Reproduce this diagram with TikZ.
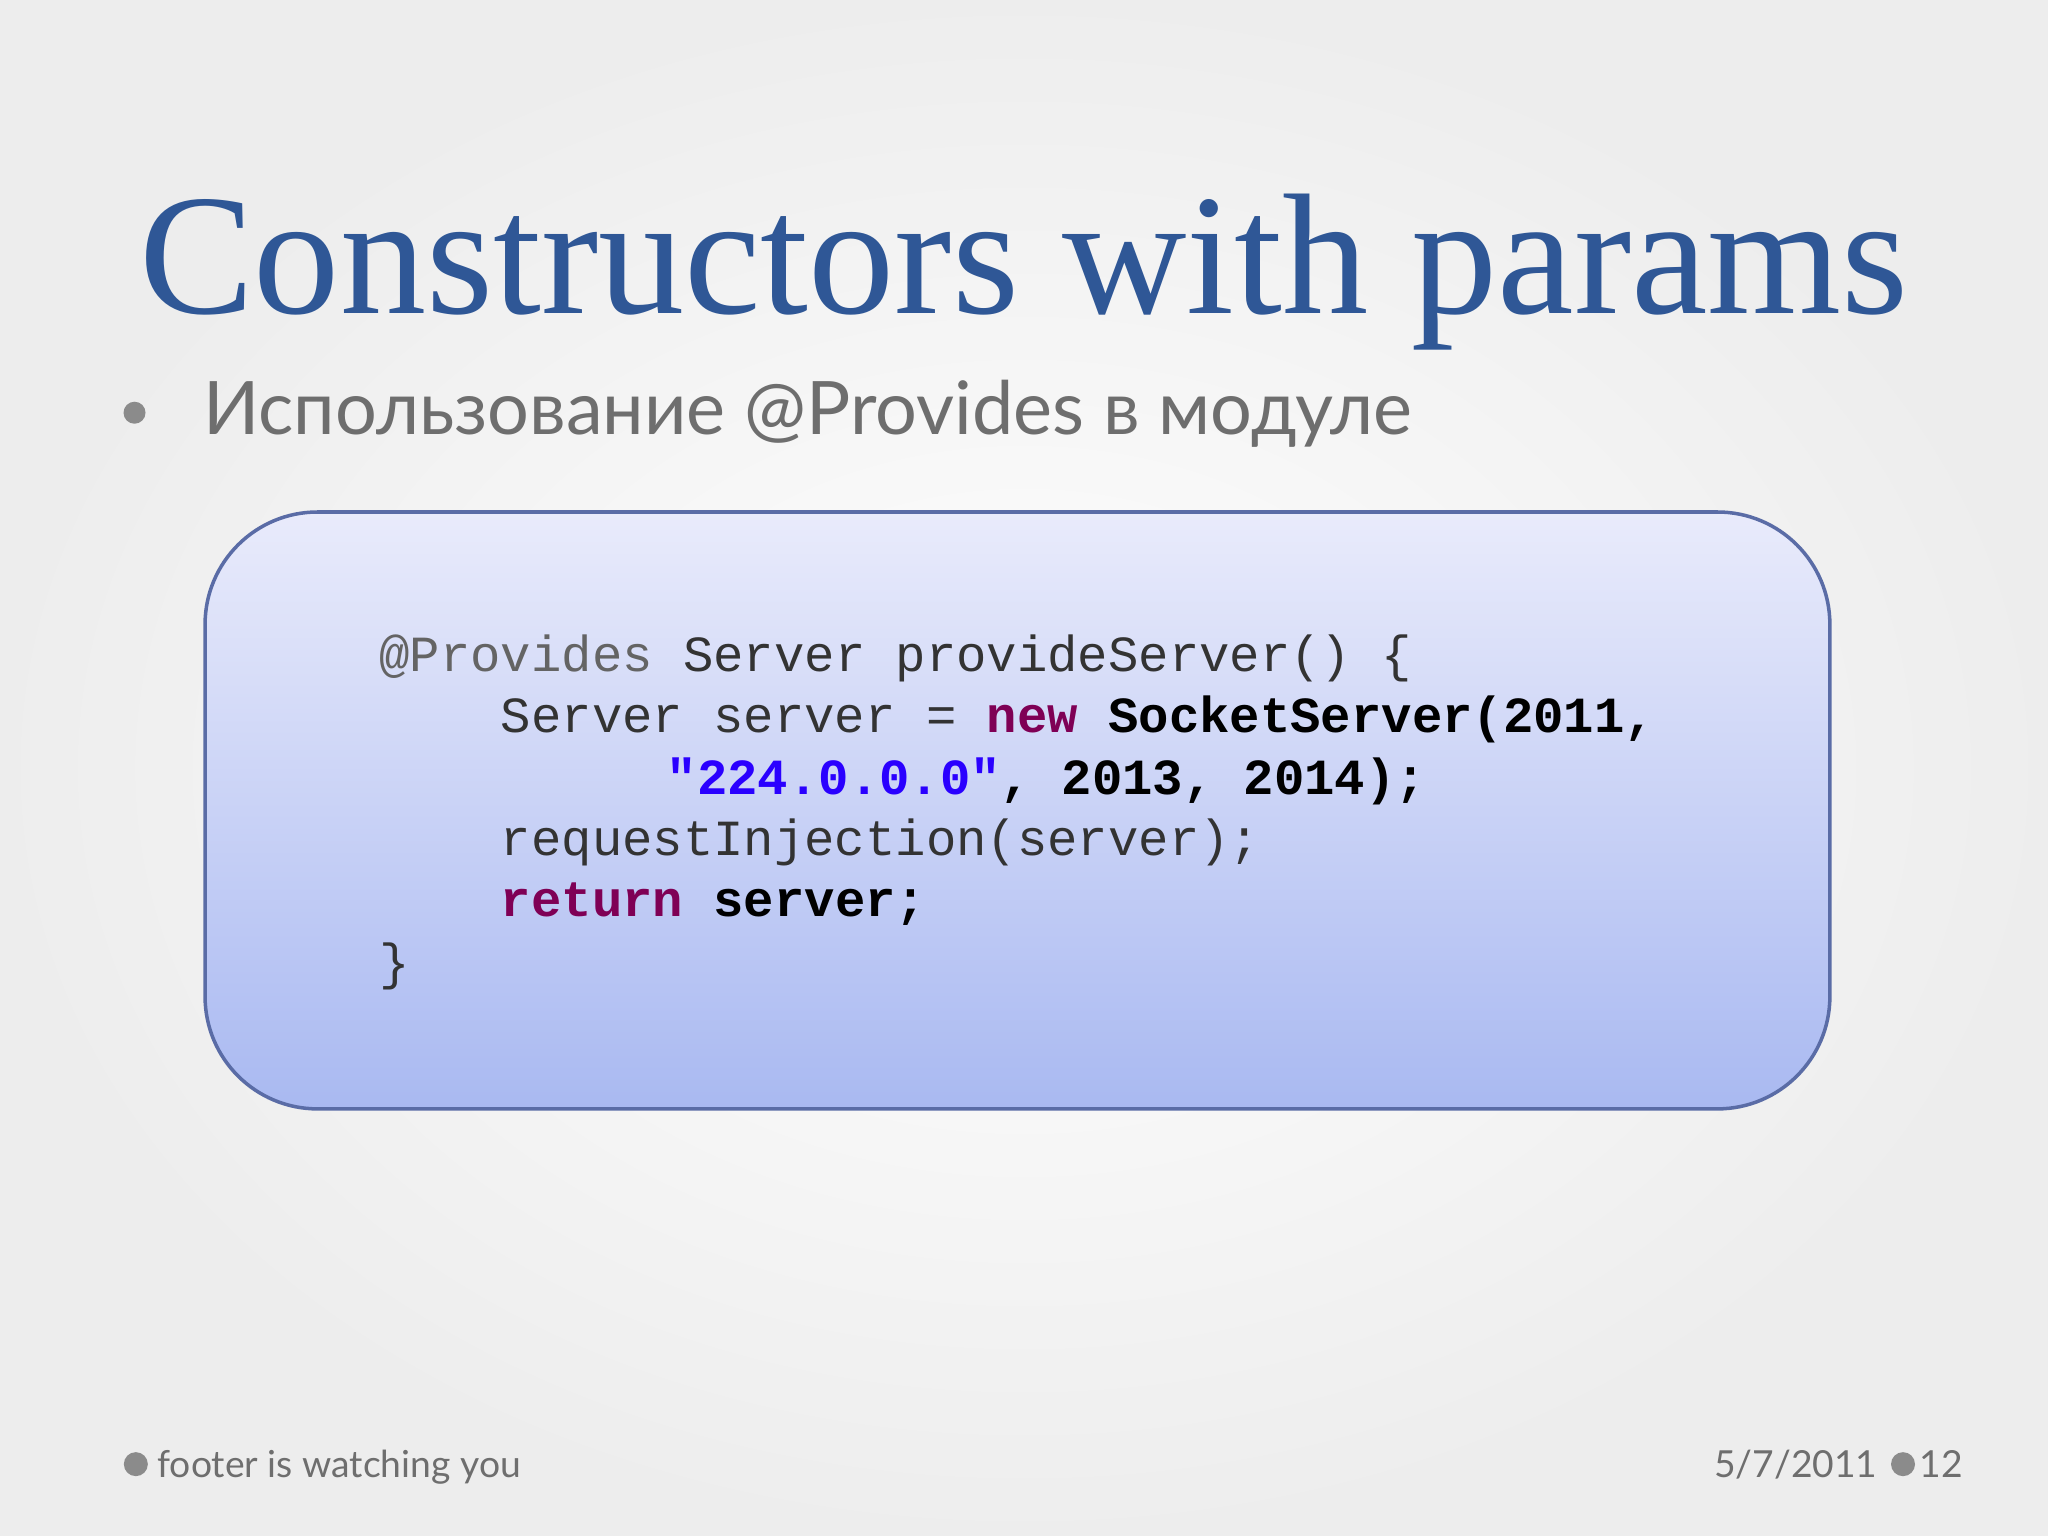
\documentclass[tikz,border=0pt]{standalone}
\usepackage{fontspec}
\setmainfont{Liberation Serif}
\newfontfamily\bodyfont{Lato}
\newfontfamily\codefont{Liberation Mono}
\definecolor{titleblue}{HTML}{2F5796}
\definecolor{bodygray}{HTML}{6E6E6E}
\definecolor{kw}{HTML}{7F0055}
\definecolor{str}{HTML}{2A00FF}
\definecolor{anno}{HTML}{646464}
\definecolor{boxtop}{HTML}{E9EBFB}
\definecolor{boxbot}{HTML}{A9B9F1}
\definecolor{boxline}{HTML}{5A6CA6}
\tikzset{
  codeline/.style={anchor=base west,inner sep=0pt,font=\codefont\fontsize{14.4pt}{16pt}\selectfont,text=black!80},
  foot/.style={anchor=base west,inner sep=0pt,font=\bodyfont\fontsize{10.6pt}{12pt}\selectfont,text=bodygray},
  dotmark/.style={circle,fill=bodygray!80,inner sep=0pt,minimum size=2.4mm}
}
\begin{document}
\begin{tikzpicture}[x=0.01306cm,y=-0.01306cm]
\useasboundingbox (0,0) rectangle (1568,1176);
\shade[inner color=white,outer color=black!7] (0,0) rectangle (1568,1176);
\node (title) [anchor=base,inner sep=0pt,font=\fontsize{49pt}{56pt}\selectfont,text=titleblue] at (784,240) {Constructors with params};
\node (bul) [dotmark,minimum size=2.2mm] at (103,316) {};
\node (sub) [anchor=base west,inner sep=0pt,font=\bodyfont\fontsize{21pt}{25pt}\selectfont,text=bodygray] at (155,333) {Использование @Provides в модуле};
\shade[top color=boxtop,bottom color=boxbot,draw=boxline,line width=1pt,rounded corners=32pt] (157,392) rectangle (1401,849);
\node (c1) [codeline] at (290,514) {\textcolor{anno}{@Provides} Server provideServer() \{};
\node (c2) [codeline] at (383,561) {Server server = \textbf{\textcolor{kw}{new} \textcolor{black}{SocketServer(2011,}}};
\node (c3) [codeline] at (510,608) {\textbf{\textcolor{str}{"224.0.0.0"}\textcolor{black}{, 2013, 2014);}}};
\node (c4) [codeline] at (383,655) {requestInjection(server);};
\node (c5) [codeline] at (383,702) {\textbf{\textcolor{kw}{return} \textcolor{black}{server;}}};
\node (c6) [codeline] at (290,750) {\}};
\node (fd1) [dotmark] at (104,1121) {};
\node (ft) [foot] at (120,1131) {footer is watching you};
\node (fd) [foot,anchor=base east] at (1438,1131) {5/7/2011};
\node (fd2) [dotmark] at (1457,1121) {};
\node (pg) [foot] at (1469,1131) {12};
\end{tikzpicture}
\end{document}
